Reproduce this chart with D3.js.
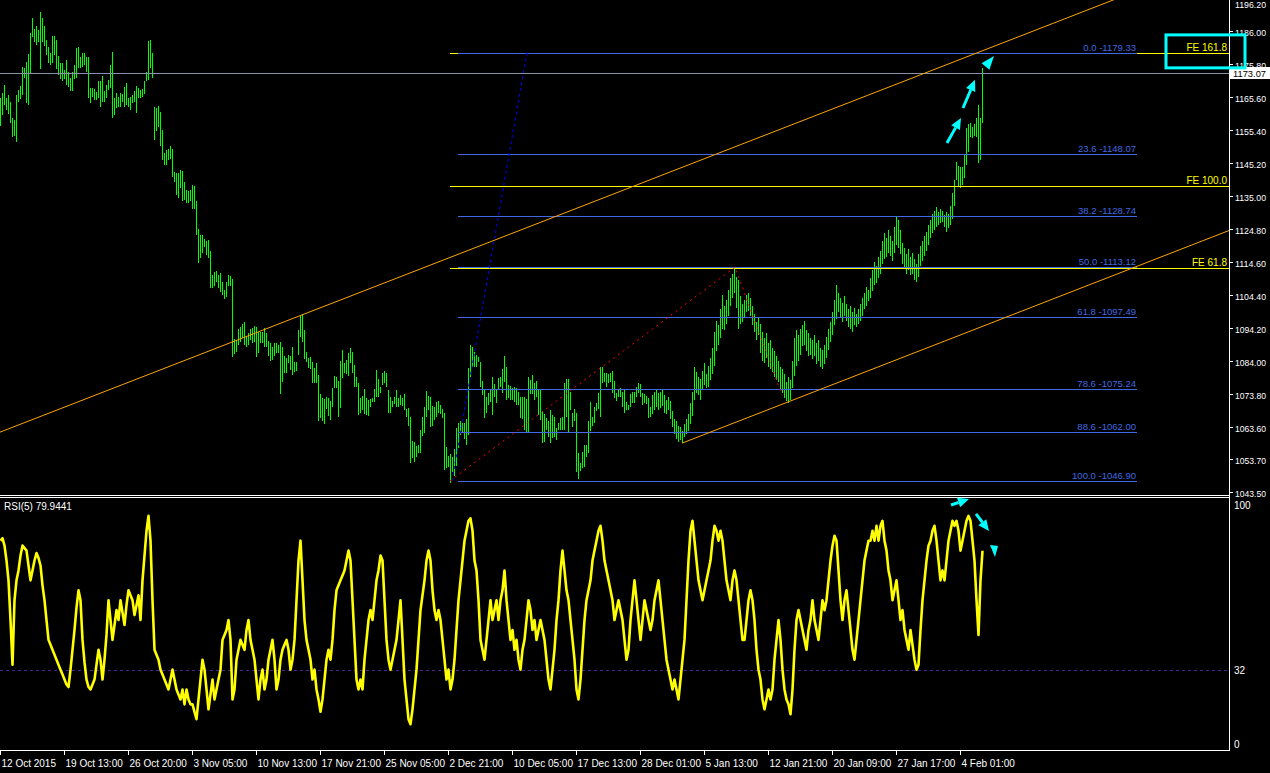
<!DOCTYPE html>
<html><head><meta charset="utf-8">
<script src="https://cdn.jsdelivr.net/npm/d3@7"></script>
<style>html,body{margin:0;padding:0;background:#000;overflow:hidden}</style>
</head><body><svg id="c" width="1270" height="773"></svg>
<script>
const highs = [
1165.2,1166.7,1169.3,1165.2,1166.2,1164.2,1159.0,1158.5,1166.2,1167.8,
1169.0,1175.0,1174.5,1176.5,1178.9,1185.5,1189.9,1186.5,1187.4,1186.3,
1191.8,1189.9,1187.4,1183.2,1181.2,1179.1,1184.5,1184.5,1183.2,1178.3,
1176.2,1176.0,1174.0,1177.1,1173.4,1171.4,1173.4,1175.5,1180.7,1181.0,
1177.9,1179.3,1179.1,1178.1,1178.1,1168.3,1168.3,1168.0,1167.0,1170.4,
1170.4,1172.1,1167.3,1169.3,1170.9,1175.5,1179.6,1165.2,1166.7,1165.7,
1166.7,1166.5,1168.8,1169.8,1165.2,1165.5,1166.2,1167.6,1169.0,1168.3,
1167.8,1168.0,1170.4,1173.4,1183.0,1183.2,1179.3,1162.6,1162.1,1162.8,
1161.1,1155.4,1148.2,1149.2,1149.4,1150.3,1149.4,1142.5,1142.2,1142.2,
1143.1,1142.8,1139.4,1136.9,1136.4,1136.9,1138.4,1138.1,1133.3,1124.7,
1123.0,1123.0,1121.6,1121.2,1121.4,1118.1,1110.6,1111.6,1111.9,1110.6,
1111.3,1108.5,1106.0,1108.5,1110.6,1110.3,1109.3,1090.7,1090.5,1093.8,
1094.6,1095.4,1095.9,1091.7,1092.6,1093.8,1094.1,1094.8,1094.6,1093.1,
1093.1,1093.1,1094.1,1092.6,1090.3,1089.5,1088.4,1089.7,1089.5,1089.0,
1090.0,1088.4,1085.6,1084.8,1085.9,1085.6,1088.4,1083.8,1083.8,1093.6,
1098.2,1098.5,1093.6,1086.9,1084.8,1085.1,1083.8,1081.7,1083.3,1079.7,
1073.8,1072.5,1072.2,1072.8,1072.5,
1071.7,1075.5,1079.4,1079.2,1077.8,1084.1,1087.4,1083.3,1084.3,1086.6,
1087.9,1086.9,1082.8,1078.9,1077.1,1072.5,1073.2,1075.2,1072.5,1071.9,
1072.2,1072.5,1075.2,1081.2,1078.3,1076.1,1080.4,1081.0,1080.2,1075.0,
1073.0,1071.7,1073.0,1075.0,1072.5,1073.5,1072.5,1073.8,1069.1,1069.4,
1066.8,1059.4,1059.1,1057.7,1058.0,1062.7,1066.8,1069.9,1074.8,1073.2,
1073.0,1070.1,1069.9,1071.4,1071.7,1070.4,1069.3,1068.0,1057.5,1054.6,
1055.3,1054.4,1056.7,1063.2,1064.7,1065.5,1064.9,1064.7,1066.0,1081.7,
1088.9,1088.2,1086.9,1085.9,1085.3,1083.8,1077.9,1075.0,1073.0,1074.2,
1075.2,1079.2,1076.9,1075.0,1078.6,1079.2,1081.5,1085.5,1082.2,1076.6,
1076.3,1075.5,1075.9,1075.5,1074.5,1073.0,1073.0,1073.0,1072.3,1079.2,
1078.1,1079.7,1077.1,1077.8,1075.0,1075.0,1068.6,1067.6,1066.3,1065.3,
1068.9,1067.3,1066.8,1063.2,1064.9,1066.5,1066.8,1077.1,1078.4,1078.4,
1074.5,1067.8,1069.1,1068.0,1055.7,1052.4,1056.0,1058.0,1058.0,1065.3,
1071.4,1066.8,1069.9,1071.1,1074.2,1082.2,1082.0,1080.2,1080.4,1080.0,
1080.4,1081.0,1077.8,1074.0,1075.0,1075.8,1074.5,1075.0,1071.4,1070.4,
1073.8,1074.5,1074.5,1076.1,1077.1,1076.9,1074.2,1073.8,1073.2,1072.5,
1069.7,1073.5,1074.5,1075.2,1074.0,
1074.5,1075.0,1073.5,1072.0,1073.0,1071.5,1068.5,1066.0,1065.5,1064.0,
1063.5,1062.5,1064.5,1066.0,1067.5,1071.0,1074.5,1082.0,1080.5,1079.0,
1078.5,1081.0,1083.5,1080.0,1082.5,1085.0,1088.0,1093.0,1096.5,1095.0,
1100.0,1104.5,1101.0,1103.0,1106.0,1109.5,1111.0,1113.0,1110.0,1109.0,
1104.0,1101.5,1103.0,1104.5,1105.0,1103.5,1101.0,1098.5,1096.0,1097.5,
1095.5,1093.0,1091.0,1092.5,1089.5,1090.5,1088.0,1087.0,1085.5,1084.0,
1082.0,1081.5,1080.0,1077.5,1079.0,1078.0,1084.0,1091.0,1093.5,1092.0,
1094.0,1095.0,1096.5,1093.5,1092.5,1091.0,1090.5,1092.0,1089.5,1090.5,
1088.0,1087.5,1089.0,1091.5,1094.0,1096.0,1099.0,1103.0,1107.5,1105.0,
1103.5,1102.0,1104.0,1101.5,1100.0,1101.0,1099.0,1100.5,1098.5,1100.0,
1101.5,1103.5,1105.0,1107.0,1106.0,1109.5,1112.0,1114.5,1113.5,1116.0,
1118.0,1121.0,1123.5,1122.0,1124.5,1122.5,1121.0,1125.5,1128.5,1127.5,
1124.5,1120.5,1119.0,1117.0,1118.5,1116.0,1117.5,1115.5,1114.0,1117.0,
1119.5,1121.0,1122.5,1124.0,1126.0,1127.5,1129.5,1130.5,1131.5,1130.0,
1131.0,1130.5,1129.0,1130.0,1129.5,1132.0,1136.0,1140.0,1145.6,1144.3,
1144.0,1144.0,1147.7,1156.0,1157.2,1157.6,1156.3,1157.2,1159.1,1163.1,
1159.1,1174.6
];
const lows = [
1156.7,1160.1,1163.1,1161.6,1160.4,1157.7,1153.2,1153.6,1151.8,1163.9,
1165.1,1166.2,1171.4,1163.7,1163.1,1172.9,1184.1,1182.7,1181.7,1182.7,
1174.3,1182.7,1181.4,1178.6,1176.0,1175.5,1176.0,1178.6,1174.2,1172.4,
1171.1,1170.4,1171.1,1169.3,1168.8,1167.3,1167.3,1171.1,1171.4,1174.5,
1174.5,1175.0,1175.5,1173.4,1165.2,1163.7,1165.5,1164.7,1164.7,1165.2,
1162.6,1164.2,1164.2,1165.2,1167.8,1168.3,1159.0,1160.1,1162.1,1162.4,
1162.4,1164.2,1162.4,1163.1,1162.6,1161.6,1163.7,1164.2,1160.8,1165.2,
1165.2,1165.7,1166.5,1170.4,1170.9,1174.5,1171.4,1152.3,1155.2,1156.4,
1150.5,1146.1,1144.6,1144.6,1146.1,1146.3,1140.8,1139.4,1135.3,1134.3,
1137.4,1133.3,1133.8,1132.7,1132.7,1133.3,1130.9,1130.9,1122.9,1114.4,
1115.7,1117.3,1119.1,1116.8,1115.7,1106.5,1106.5,1107.2,1108.5,1106.5,
1105.4,1104.4,1103.1,1103.9,1107.2,1107.2,1085.3,1086.2,1086.9,1089.0,
1090.0,1091.0,1089.0,1088.2,1089.0,1090.5,1089.5,1090.0,1085.1,1086.6,
1089.5,1089.7,1088.4,1088.4,1085.6,1084.1,1084.3,1085.6,1086.4,1086.6,
1073.8,1077.6,1080.2,1080.2,1083.3,1081.2,1079.7,1080.7,1081.0,1085.9,
1091.5,1090.0,1084.5,1083.8,1081.7,1081.4,1077.1,1077.1,1077.1,1065.3,
1066.3,1065.3,1064.5,1069.1,1067.0,
1065.8,1069.9,1075.5,1075.5,1066.8,1069.4,1078.6,1080.2,1080.0,1079.4,
1083.3,1080.2,1075.9,1075.9,1067.3,1067.8,1068.9,1067.6,1067.3,1067.0,
1069.9,1071.4,1071.4,1073.0,1073.0,1074.0,1076.6,1077.3,1076.1,1067.8,
1067.8,1069.7,1070.7,1069.9,1069.9,1070.4,1070.1,1068.7,1066.8,1063.9,
1052.6,1053.9,1052.9,1054.4,1055.5,1055.7,1060.8,1061.6,1066.8,1068.9,
1063.7,1063.9,1065.8,1066.8,1068.0,1067.6,1066.3,1050.3,1050.8,1051.3,
1046.2,1049.8,1048.5,1051.5,1057.0,1061.1,1062.2,1059.8,1058.0,1061.1,
1079.2,1082.2,1082.0,1082.2,1083.8,1075.9,1073.5,1066.3,1067.8,1070.4,
1071.4,1067.3,1073.0,1070.9,1075.0,1076.1,1074.0,1077.6,1071.9,1072.5,
1071.9,1071.9,1071.4,1070.4,1070.4,1066.3,1066.0,1062.7,1062.2,1062.2,
1073.8,1073.8,1071.9,1073.0,1067.3,1065.8,1058.5,1059.1,1062.7,1060.6,
1058.8,1060.1,1060.6,1059.6,1062.7,1062.7,1062.7,1062.7,1066.8,1061.6,
1068.9,1063.7,1065.3,1049.8,1047.4,1050.1,1050.8,1051.3,1054.4,1055.7,
1062.5,1063.9,1064.9,1068.6,1069.1,1066.8,1077.1,1077.6,1076.1,1077.1,
1077.6,1074.0,1072.5,1071.7,1073.0,1072.8,1069.7,1068.0,1068.9,1068.7,
1069.7,1071.1,1070.9,1073.0,1074.2,1073.0,1070.4,1070.9,1070.7,1066.3,
1066.8,1067.6,1068.9,1069.9,1068.9,
1069.5,1070.0,1068.0,1067.5,1069.0,1066.0,1063.5,1061.5,1060.0,1059.0,
1059.5,1058.6,1060.5,1061.5,1062.5,1064.5,1067.0,1072.0,1074.0,1073.5,
1072.0,1075.0,1076.5,1075.5,1076.0,1078.0,1080.0,1082.5,1087.0,1089.0,
1091.0,1094.0,1093.5,1095.5,1098.0,1101.0,1103.5,1105.0,1100.5,1094.0,
1095.5,1096.0,1097.5,1099.0,1099.5,1098.0,1095.0,1093.0,1090.5,1092.0,
1086.5,1084.0,1083.5,1085.0,1082.0,1081.5,1080.5,1079.0,1078.0,1077.5,
1075.0,1074.0,1072.5,1071.5,1071.0,1071.8,1075.5,1079.5,1082.5,1084.0,
1086.0,1088.5,1089.0,1087.0,1085.5,1086.0,1084.5,1085.5,1083.0,1084.0,
1082.0,1081.5,1083.0,1085.0,1087.5,1090.0,1092.0,1095.0,1097.0,1099.0,
1097.5,1096.0,1098.0,1096.5,1094.5,1094.0,1093.0,1095.0,1094.5,1095.5,
1096.5,1098.0,1100.0,1101.0,1102.5,1103.5,1105.5,1107.5,1108.0,1109.5,
1111.0,1114.0,1115.5,1116.0,1117.5,1116.5,1115.0,1117.5,1120.0,1119.0,
1117.0,1114.0,1112.5,1111.0,1112.0,1110.5,1111.0,1109.0,1108.5,1110.0,
1113.5,1115.0,1116.5,1118.0,1120.0,1122.0,1123.5,1124.5,1125.5,1126.0,
1126.5,1127.0,1125.5,1124.0,1125.0,1126.0,1128.0,1132.0,1140.0,1138.0,
1137.5,1138.5,1140.6,1144.6,1148.6,1153.2,1152.9,1153.5,1153.2,1145.2,
1146.1,1157.6
];
const rsi = [
84,85,82,76,68,52,34,60,68,72, 78,82,81,80,74,68,72,76,79,77,
74,66,60,52,44,42,40,38,36,34, 32,30,28,26,25,32,40,48,57,64,
60,44,35,28,25,24,26,28,34,40, 36,28,36,46,60,52,44,50,56,52,
60,55,50,58,64,62,60,54,58,62, 52,68,78,88,94,84,60,40,38,36,
32,30,28,26,24,28,32,28,24,22, 20,24,18,24,20,18,18,15,12,20,
28,36,32,24,16,22,28,20,24,28, 32,44,46,48,52,44,20,24,36,40,
44,42,40,48,52,44,40,36,28,20, 28,32,24,28,36,40,44,36,24,28,
36,40,42,44,40,32,36,44,60,76, 84,68,52,44,40,36,28,32,24,20,
15,20,28,36,40,36,44,56,64,66, 68,70,72,76,80,76,60,44,28,24,
28,24,36,44,52,56,52,60,68,72, 78,76,60,44,36,32,36,40,44,52,
60,44,28,20,12,10,16,24,32,44, 56,62,68,76,80,76,64,56,52,56,
52,44,36,28,32,24,28,36,48,60, 68,76,84,88,92,93,88,76,72,60,
44,40,36,44,52,60,52,56,60,52, 60,64,72,60,52,44,48,40,44,36,
32,40,44,52,60,56,48,52,44,48, 52,48,44,36,28,24,32,40,52,60,
72,80,72,64,60,52,44,36,24,20, 28,40,52,60,64,68,76,80,84,88,
90,84,76,72,68,64,60,52,56,60, 56,52,44,36,40,52,60,68,60,52,
44,52,60,56,52,48,52,60,64,68, 60,52,44,36,32,28,24,28,24,20,
28,36,44,60,76,88,92,84,76,68, 64,60,64,68,72,76,84,90,88,84,
88,84,76,68,64,60,68,72,68,60, 52,44,44,52,60,64,60,52,40,32,
28,20,16,20,24,20,24,36,44,52, 44,32,24,20,18,14,24,40,52,56,
52,48,44,40,48,52,60,52,48,44, 52,60,56,60,68,76,82,86,84,72,
60,52,60,64,56,48,40,36,44,52, 60,68,76,80,84,84,88,84,90,84,
90,92,84,80,72,68,60,64,68,60, 52,56,48,44,40,48,42,36,32,34,
48,60,68,76,82,84,88,90,84,76, 68,72,68,76,84,88,92,90,92,88,
80,84,88,92,94,92,84,76,60,46, 68,79.94
];
const priceTicks = [1196.2,1186.0,1175.8,1165.6,1155.4,1145.2,1135.0,1124.8,1114.6,1104.4,1094.2,1084.0,1073.8,1063.6,1053.7,1043.5];
const timeLabels = ["12 Oct 2015","19 Oct 13:00","26 Oct 20:00","3 Nov 05:00","10 Nov 13:00","17 Nov 21:00","25 Nov 05:00","2 Dec 21:00","10 Dec 05:00","17 Dec 13:00","28 Dec 01:00","5 Jan 13:00","12 Jan 21:00","20 Jan 09:00","27 Jan 17:00","4 Feb 01:00"];
const barsPerTimeLabel = 32;
const fibLevels = ["0.0","23.6","38.2","50.0","61.8","78.6","88.6","100.0"];
const fibPrices = [1179.33,1148.07,1128.74,1113.12,1097.49,1075.24,1062.00,1046.90];
const feLabels = ["FE 161.8","FE 100.0","FE 61.8"];
const fePrices = [1179.33,1138.0,1112.6];
const currentPrice = 1173.07;
const rsiTitle = "RSI(5) 79.9441";
const rsiTicks = [100,32,0];
const rsiLevel = 32;
const channelUpper = [[0,1062.0],[500,1182.0]];
const channelLower = [[341,1058.6],[614,1124.2]];
const fibTrend = [[226,1046.9],[263.5,1179.33]];
const feTrend = [[225,1046.9],[367.5,1113.0],[391,1073.5]];
const priceArrows = [[[473.5,1151.4],[480.5,1159.1]],[[481.5,1162.2],[487.5,1170.9]]];
const priceTriangle = [[490.8,1176.0],[497,1178.3],[494.7,1174.0]];
const priceBox = [[583,1184.8],[622.5,1174.6]];
const rsiArrows = [[[475.5,98.4],[484.5,100.8]],[[488,94.8],[494.5,87.9]]];
const rsiTriangle = [[495,82.3],[499,81.9],[497.5,77.4]];

const svg = d3.select("#c");
const W = 1270, H = 773, AX = 1229;
const FONT = "Liberation Sans, Arial, sans-serif";
svg.append("rect").attr("width", W).attr("height", H).attr("fill", "#000");

const x = d3.scaleLinear().domain([0, 614]).range([0, 1228]);
const yP = d3.scaleLinear().domain([1043.5, 1186]).range([492, 31]);
const yR = d3.scaleLinear().domain([0, 100]).range([749, 501]);

const defs = svg.append("defs");
defs.append("clipPath").attr("id", "cp").append("rect").attr("x", 0).attr("y", 0).attr("width", AX).attr("height", 495);
defs.append("clipPath").attr("id", "cr").append("rect").attr("x", 0).attr("y", 498).attr("width", AX).attr("height", 252);

const gp = svg.append("g").attr("clip-path", "url(#cp)");
const gr = svg.append("g").attr("clip-path", "url(#cr)");

// bars
gp.append("g").selectAll("line").data(highs).join("line")
  .attr("x1", (d, i) => Math.round(x(i)) + 0.5).attr("x2", (d, i) => Math.round(x(i)) + 0.5)
  .attr("y1", d => yP(d)).attr("y2", (d, i) => yP(lows[i]))
  .attr("stroke", "#00ff00").attr("stroke-width", 1).attr("shape-rendering", "crispEdges");

// current price line
gp.append("line").attr("x1", 0).attr("x2", AX).attr("y1", Math.round(yP(currentPrice)) + 0.5).attr("y2", Math.round(yP(currentPrice)) + 0.5)
  .attr("stroke", "#8593a6").attr("shape-rendering", "crispEdges");

// FE lines (yellow)
fePrices.forEach((p, i) => {
  const yy = Math.round(yP(p)) + 0.5;
  gp.append("line").attr("x1", x(225)).attr("x2", AX).attr("y1", yy).attr("y2", yy).attr("stroke", "#ffff00").attr("shape-rendering", "crispEdges");
  svg.append("text").attr("x", AX - 2).attr("y", yy - 3).attr("text-anchor", "end").attr("fill", "#ffff00")
    .attr("font-family", FONT).attr("font-size", 10).text(feLabels[i]);
});

// Fib retracement lines
fibPrices.forEach((p, i) => {
  const yy = Math.round(yP(p)) + 0.5;
  gp.append("line").attr("x1", x(229)).attr("x2", x(568.5)).attr("y1", yy).attr("y2", yy).attr("stroke", "#4169e1").attr("shape-rendering", "crispEdges");
  gp.append("text").attr("x", x(568)).attr("y", yy - 3).attr("text-anchor", "end").attr("fill", "#4169e1")
    .attr("font-family", FONT).attr("font-size", 9.5).text(fibLevels[i] + " -" + p.toFixed(2));
});

// channel lines
function ext(pts) {
  const [[b1, p1], [b2, p2]] = pts; const s = (p2 - p1) / (b2 - b1);
  return [[b1, p1], [700, p1 + s * (700 - b1)]];
}
const lineP = d3.line().x(d => x(d[0])).y(d => yP(d[1]));
[channelUpper, channelLower].forEach(c => {
  gp.append("path").attr("d", lineP(ext(c))).attr("fill", "none").attr("stroke", "#ffa500").attr("stroke-width", 1);
});
// dotted trend lines
gp.append("path").attr("d", lineP(fibTrend)).attr("fill", "none").attr("stroke", "#0000ff").attr("stroke-dasharray", "3,3");
gp.append("path").attr("d", lineP(feTrend)).attr("fill", "none").attr("stroke", "#ff0000").attr("stroke-dasharray", "2,4");

// arrows
function arrow(g, p1, p2, col) {
  const dx = p2[0] - p1[0], dy = p2[1] - p1[1], L = Math.hypot(dx, dy), ux = dx / L, uy = dy / L;
  const hl = 11, hw = 5;
  const bx = p2[0] - ux * hl, by = p2[1] - uy * hl;
  g.append("line").attr("x1", p1[0]).attr("y1", p1[1]).attr("x2", bx).attr("y2", by).attr("stroke", col).attr("stroke-width", 3);
  g.append("path").attr("d", `M${p2[0]},${p2[1]}L${bx - uy * hw},${by + ux * hw}L${bx + uy * hw},${by - ux * hw}Z`).attr("fill", col);
}

// right axis
svg.append("line").attr("x1", AX + 0.5).attr("x2", AX + 0.5).attr("y1", 0).attr("y2", 751).attr("stroke", "#fff").attr("shape-rendering", "crispEdges");
priceTicks.forEach(t => {
  const yy = Math.round(yP(t)) + 0.5;
  svg.append("line").attr("x1", AX).attr("x2", AX + 4).attr("y1", yy).attr("y2", yy).attr("stroke", "#fff").attr("shape-rendering", "crispEdges");
  svg.append("text").attr("x", AX + 6).attr("y", Math.max(yy + 4, 8)).attr("fill", "#fff").attr("font-family", FONT).attr("font-size", 9.5)
    .attr("textLength", 31).attr("lengthAdjust", "spacingAndGlyphs").text(t.toFixed(2));
});
// current price box
const cy = Math.round(yP(currentPrice));
svg.append("rect").attr("x", AX + 1).attr("y", cy - 6).attr("width", W - AX - 1).attr("height", 12).attr("fill", "#fff");
svg.append("text").attr("x", AX + 4).attr("y", cy + 4).attr("fill", "#000").attr("font-family", FONT).attr("font-size", 9.5)
  .attr("textLength", 33).attr("lengthAdjust", "spacingAndGlyphs").text(currentPrice.toFixed(2));

// separators
[495.5, 497.5, 750.5].forEach(yy => svg.append("line").attr("x1", 0).attr("x2", AX + 1).attr("y1", yy).attr("y2", yy).attr("stroke", "#fff").attr("shape-rendering", "crispEdges"));

// RSI panel
gr.append("line").attr("x1", 0).attr("x2", AX).attr("y1", Math.round(yR(rsiLevel)) + 0.5).attr("y2", Math.round(yR(rsiLevel)) + 0.5)
  .attr("stroke", "#4b2390").attr("stroke-dasharray", "3,3");
gr.append("path").datum(rsi).attr("d", d3.line().x((d, i) => x(i) + 0.5).y(d => yR(d)))
  .attr("fill", "none").attr("stroke", "#ffff00").attr("stroke-width", 2.6).attr("stroke-linejoin", "round");
svg.append("text").attr("x", 4).attr("y", 510).attr("fill", "#fff").attr("font-family", FONT).attr("font-size", 10).text(rsiTitle);
rsiTicks.forEach(t => {
  const yy = Math.max(505, Math.min(744, yR(t)));
  svg.append("text").attr("x", AX + 5).attr("y", yy + 4).attr("fill", "#fff").attr("font-family", FONT).attr("font-size", 10).text(t);
});

// cyan annotations
const ga = svg.append("g");
priceArrows.forEach(a => arrow(ga, [x(a[0][0]), yP(a[0][1])], [x(a[1][0]), yP(a[1][1])], "#00ffff"));
ga.append("path").attr("d", "M" + priceTriangle.map(p => [x(p[0]), yP(p[1])].join(",")).join("L") + "Z").attr("fill", "#00ffff");
rsiArrows.forEach(a => arrow(ga, [x(a[0][0]), yR(a[0][1])], [x(a[1][0]), yR(a[1][1])], "#00ffff"));
ga.append("path").attr("d", "M" + rsiTriangle.map(p => [x(p[0]), yR(p[1])].join(",")).join("L") + "Z").attr("fill", "#00ffff");
ga.append("rect").attr("x", x(priceBox[0][0])).attr("y", yP(priceBox[0][1]))
  .attr("width", x(priceBox[1][0]) - x(priceBox[0][0])).attr("height", yP(priceBox[1][1]) - yP(priceBox[0][1]))
  .attr("fill", "none").attr("stroke", "#00ffff").attr("stroke-width", 3);

// time axis
timeLabels.forEach((l, k) => {
  const xx = Math.round(x(k * barsPerTimeLabel)) + 0.5;
  svg.append("line").attr("x1", xx).attr("x2", xx).attr("y1", 750).attr("y2", 755).attr("stroke", "#fff").attr("shape-rendering", "crispEdges");
  svg.append("text").attr("x", xx + 1).attr("y", 767).attr("fill", "#fff").attr("font-family", FONT).attr("font-size", 10).text(l);
});
</script></body></html>
